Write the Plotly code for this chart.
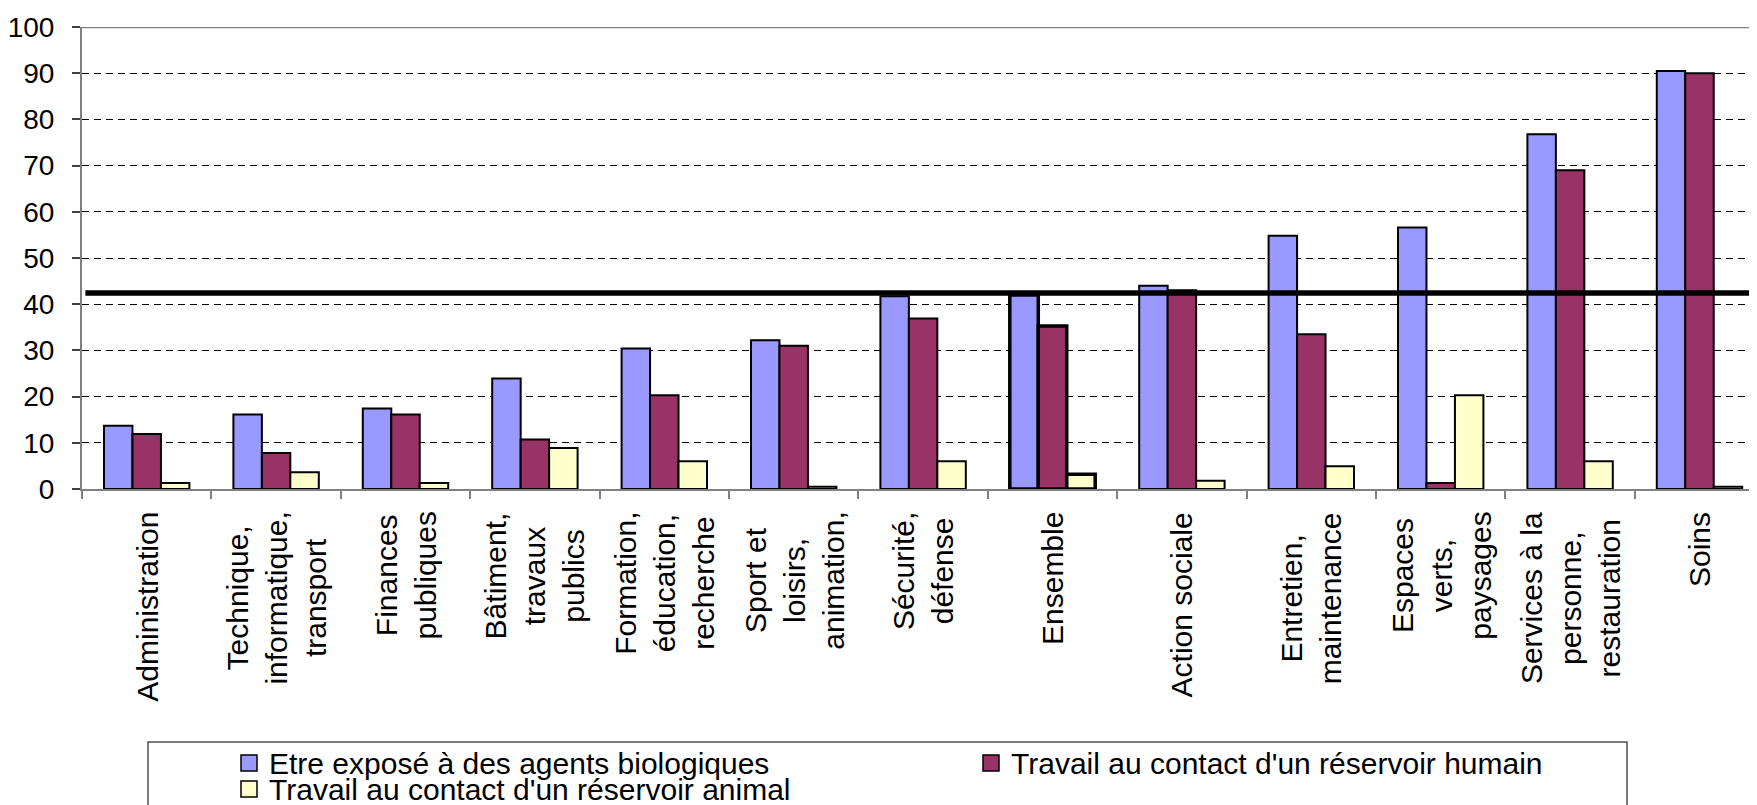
import plotly.graph_objects as go

# ---------------- data ----------------
categories = [
    "Administration",
    "Technique, informatique, transport",
    "Finances publiques",
    "Bâtiment, travaux publics",
    "Formation, éducation, recherche",
    "Sport et loisirs, animation,",
    "Sécurité, défense",
    "Ensemble",
    "Action sociale",
    "Entretien, maintenance",
    "Espaces verts, paysages",
    "Services à la personne, restauration",
    "Soins",
]
category_labels = [
    "Administration",
    "Technique,<br>informatique,<br>transport",
    "Finances<br>publiques",
    "Bâtiment,<br>travaux<br>publics",
    "Formation,<br>éducation,<br>recherche",
    "Sport et<br>loisirs,<br>animation,",
    "Sécurité,<br>défense",
    "Ensemble",
    "Action sociale",
    "Entretien,<br>maintenance",
    "Espaces<br>verts,<br>paysages",
    "Services à la<br>personne,<br>restauration",
    "Soins",
]
series_names = [
    "Etre exposé à des agents biologiques",
    "Travail au contact d'un réservoir humain",
    "Travail au contact d'un réservoir animal",
]
agents_biologiques = [13.7, 16.1, 17.4, 23.9, 30.4, 32.2, 41.7, 42.0, 44.0, 54.8, 56.6, 76.8, 90.5]
reservoir_humain = [11.9, 7.8, 16.1, 10.7, 20.3, 31.0, 36.9, 35.3, 43.0, 33.5, 1.3, 69.0, 90.0]
reservoir_animal = [1.3, 3.6, 1.3, 8.9, 6.0, 0.5, 6.0, 3.2, 1.8, 4.9, 20.3, 6.0, 0.5]
ensemble_line = 42.4
y_ticks = [0, 10, 20, 30, 40, 50, 60, 70, 80, 90, 100]

# ---------------- style ----------------
colors = ["#9999FF", "#993366", "#FFFFCC"]
FONT = "Liberation Sans, Arial, sans-serif"
W, H = 1757, 805
OFF = 8                              # page offset of the figure (body margin)
L_PAGE, T_PAGE, B_PAGE = 82, 27, 489  # plot-area edges in page pixels
L, T = L_PAGE - OFF, T_PAGE - OFF
B_FIG = B_PAGE - OFF
PW, PH = W - L, B_FIG - T


def px2x(px):
    return (px - OFF - L) / PW


def px2y(py):
    return (B_FIG - (py - OFF)) / PH


outline_w = [3.5 if c == "Ensemble" else 2 for c in categories]

fig = go.Figure()
for name, vals, col in zip(series_names,
                           [agents_biologiques, reservoir_humain, reservoir_animal],
                           colors):
    fig.add_trace(go.Bar(
        x=categories, y=vals, name=name,
        marker=dict(color=col, line=dict(color="black", width=outline_w)),
        showlegend=False,
    ))

cat_px = 129.4
x_end = -0.5 + PW / cat_px

fig.update_layout(
    width=W, height=H,
    margin=dict(l=L, r=0, t=T, b=H - B_FIG),
    plot_bgcolor="white", paper_bgcolor="white",
    barmode="group", bargap=0.34, bargroupgap=0,
    font=dict(family=FONT, color="black"),
    xaxis=dict(
        type="category", range=[-0.5, x_end],
        showticklabels=False, showgrid=False,
        ticks="outside", tickson="boundaries", ticklen=8,
        tickcolor="#808080", tickwidth=1.5,
        showline=True, linecolor="#808080", linewidth=2,
    ),
    yaxis=dict(
        range=[0, 100], tickvals=y_ticks,
        tickfont=dict(size=28, family=FONT, color="black"),
        ticks="outside", ticklen=8, tickcolor="#404040", tickwidth=1.5,
        ticklabelstandoff=12,
        showline=True, linecolor="#808080", linewidth=2,
        showgrid=True, gridcolor="black", gridwidth=1, griddash="7px,5px",
        zeroline=False,
    ),
)

shapes = []
# top border of plot area
shapes.append(dict(type="line", xref="paper", yref="y", x0=0, x1=1,
                   y0=100, y1=100, line=dict(color="#808080", width=2.5)))
# Ensemble reference line
shapes.append(dict(type="line", xref="paper", yref="y", x0=0.002, x1=1,
                   y0=ensemble_line, y1=ensemble_line,
                   line=dict(color="black", width=5.5), layer="above"))

annotations = []
for cat, lab in zip(categories, category_labels):
    annotations.append(dict(
        x=cat, xref="x", y=px2y(510), yref="paper",
        text=lab, showarrow=False, textangle=-90,
        xanchor="center", yanchor="top", align="center",
        font=dict(size=30, family=FONT, color="black"),
    ))

# ---------------- manual legend ----------------
shapes.append(dict(type="rect", xref="paper", yref="paper",
                   x0=px2x(148), x1=px2x(1627), y0=px2y(742), y1=px2y(830),
                   line=dict(color="#505050", width=1.5), fillcolor="white",
                   layer="above"))
legend_pos = [(241, 763), (983, 763), (241, 789)]
for (lx, ly), name, col in zip(legend_pos, series_names, colors):
    shapes.append(dict(type="rect", xref="paper", yref="paper",
                       x0=px2x(lx), x1=px2x(lx + 16),
                       y0=px2y(ly - 8), y1=px2y(ly + 8),
                       line=dict(color="black", width=1.5), fillcolor=col,
                       layer="above"))
    annotations.append(dict(
        x=px2x(lx + 26), xref="paper", y=px2y(ly), yref="paper",
        text=name, showarrow=False, xanchor="left", yanchor="middle",
        font=dict(size=30, family=FONT, color="black"),
    ))

fig.update_layout(shapes=shapes, annotations=annotations)
fig.write_html("out.html")
